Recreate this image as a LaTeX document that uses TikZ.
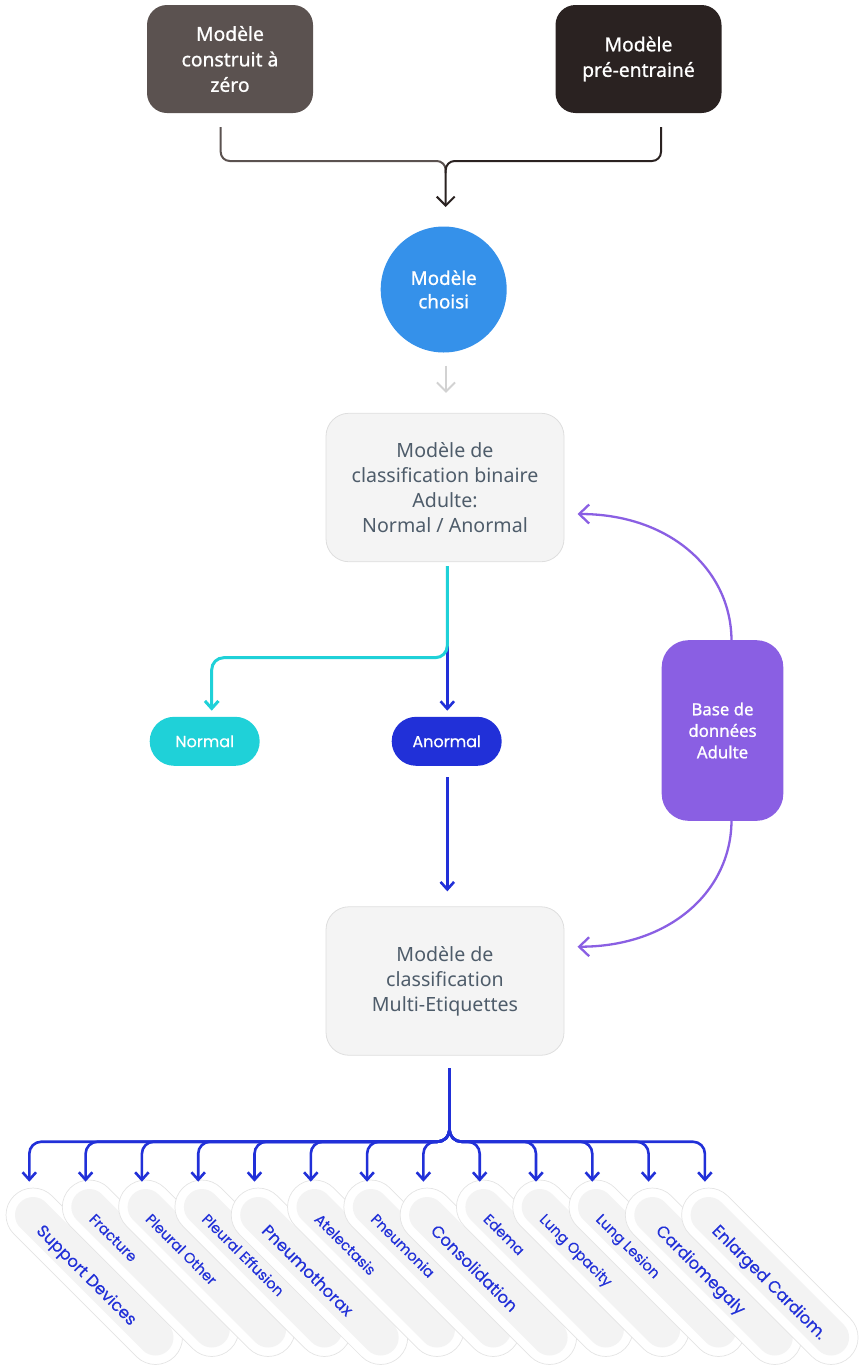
\documentclass[tikz,border=0pt]{standalone}
\usepackage{fontspec}
\setmainfont{Noto Sans}
\newfontfamily\medfont[FakeBold=0.9]{Noto Sans}
\newfontfamily\popfont[FakeBold=0.35]{Poppins}
\usetikzlibrary{arrows.meta,calc}
\definecolor{topA}{HTML}{5B5250}
\definecolor{topB}{HTML}{2A2221}
\definecolor{circ}{HTML}{3591EA}
\definecolor{lgray}{HTML}{D2D2D2}
\definecolor{boxfill}{HTML}{F4F4F4}
\definecolor{boxedge}{HTML}{DEDEDE}
\definecolor{slate}{HTML}{4E5C6A}
\definecolor{cyanc}{HTML}{1FD1D8}
\definecolor{bluec}{HTML}{2130D8}
\definecolor{purp}{HTML}{8A5FE3}
\definecolor{pillgray}{HTML}{F3F3F3}
\definecolor{haloedge}{HTML}{E4E4E4}
\begin{document}
\begin{tikzpicture}[x=1pt,y=-1pt,
  tbox/.style={rectangle, rounded corners=20pt, minimum width=166pt, minimum height=108pt, inner sep=0pt, text=white, align=center, font=\medfont\fontsize{19.3}{25.5}\selectfont},
  gbox/.style={rectangle, rounded corners=23pt, minimum width=238pt, minimum height=148.5pt, fill=boxfill, draw=boxedge, line width=0.8pt, text=slate, align=center, font=\fontsize{19.6}{25}\selectfont},
  opill/.style={rectangle, rounded corners=24.5pt, minimum width=110pt, minimum height=49pt, inner sep=0pt, text=white, font=\popfont\fontsize{16}{20}\selectfont},
  halo/.style={rectangle, rounded corners=27pt, minimum width=227.2pt, minimum height=54pt, inner sep=0pt, fill=white, draw=haloedge, line width=0.7pt, rotate=-45},
  core/.style={rectangle, rounded corners=18pt, minimum width=209.2pt, minimum height=36pt, inner sep=0pt, fill=pillgray, rotate=-45},
  lblS/.style={text=bluec, font=\popfont\fontsize{14.5}{16}\selectfont, rotate=-45, anchor=base west, inner sep=0pt},
  lblL/.style={text=bluec, font=\popfont\fontsize{16.5}{18}\selectfont, rotate=-45, anchor=base west, inner sep=0pt},
  bigtip/.style={-{Straight Barb[length=9pt,width=18pt]}},
  smalltip/.style={-{Straight Barb[length=7.5pt,width=13.5pt]}},
  purptip/.style={-{Straight Barb[length=10pt,width=19pt]}}
]
\useasboundingbox (0,0) rectangle (859,1368);

% ---- nodes ----
\node[tbox, fill=topA] (m1) at (230,59) {Modèle\\construit à\\zéro};
\node[tbox, fill=topB] (m2) at (638.5,59) {Modèle\\pré-entrainé};
\node[circle, fill=circ, minimum size=126pt, inner sep=0pt, text=white, align=center,
      font=\medfont\fontsize{18.8}{23.5}\selectfont] (ch) at (443.7,289.5) {Modèle\\choisi};
\node[gbox] (bin) at (445,487.5) {Modèle de\\classification binaire\\Adulte:\\Normal / Anormal};
\node[opill, fill=cyanc] (nor) at (204.7,741.3) {Normal};
\node[opill, fill=bluec] (ano) at (446.7,741.3) {Anormal};
\node[rectangle, rounded corners=27pt, fill=purp, minimum width=121.6pt, minimum height=180.7pt,
      inner sep=0pt, text=white, align=center, font=\medfont\fontsize{16.8}{21.5}\selectfont] (db) at (722.5,730.5) {Base de\\données\\Adulte};
\node[gbox] (mul) at (445,981) {Modèle de\\classification\\Multi-Etiquettes};

% ---- top merge ----
\coordinate (la) at (220.7,127);
\coordinate (ra) at (661,127);
\coordinate (mj) at (445.7,161);
\coordinate (mt) at (445.7,207);
\draw[topA, line width=2pt, rounded corners=9pt] (la) |- (mj) -- ++(0,12);
\draw[topB, line width=2pt, rounded corners=9pt, bigtip] (ra) |- (mj) -- (mt);

% ---- circle to binary ----
\draw[lgray, line width=2pt, bigtip] ($(ch.south)+(2.3,13)$) -- ($(bin.north)+(1,-20)$);

% ---- binary split ----
\coordinate (c0) at (447.3,566);
\coordinate (cj) at (0,657.7);
\coordinate (ntip) at (211.7,710.7);
\coordinate (a0) at (447.3,646);
\coordinate (atip) at (447.3,710.7);
\draw[bluec, line width=2.6pt, smalltip] (a0) -- (atip);
\draw[cyanc, line width=3pt, rounded corners=12pt, smalltip] (c0) -- (c0 |- cj) -| (ntip);

% ---- anormal to multi ----
\draw[bluec, line width=2.6pt, smalltip] ($(ano.south)+(0.6,11)$) -- ($(mul.north)+(2.3,-15)$);

% ---- database curves ----
\coordinate (dbt) at (731.5,641);
\coordinate (dbb) at (731.5,820);
\coordinate (bt) at (577.5,514);
\coordinate (mt2) at (577.5,946.7);
\draw[purp, line width=2.3pt, purptip] (dbt) .. controls (731.5,570) and (670,514) .. (bt);
\draw[purp, line width=2.3pt, purptip] (dbb) .. controls (731.5,891) and (670,946.7) .. (mt2);

% ---- label pills ----
\foreach \i/\t/\L in {0/Support Devices/1, 1/Fracture/0, 2/Pleural Other/0, 3/Pleural Effusion/0,
  4/Pneumothorax/1, 5/Atelectasis/0, 6/Pneumonia/0, 7/Consolidation/1, 8/Edema/0,
  9/Lung Opacity/0, 10/Lung Lesion/0, 11/Cardiomegaly/1, 12/Enlarged Cardiom./1}{
  \pgfmathsetmacro{\cx}{33+56.3*\i}
  \pgfmathsetmacro{\cy}{\L==1 ? 1215 : 1207}
  \node[halo] (h\i) at (\cx+61.25,\cy+61.25) {};
  \node[core] (k\i) at (h\i) {};
  \ifnum\L=1
    \node[lblL] (l\i) at (\cx+2.5,\cy+16.6) {\t};
  \else
    \node[lblS] (l\i) at (\cx-1,\cy+13) {\t};
  \fi
}

% ---- fan ----
\coordinate (ft) at (449.5,1068);
\coordinate (fh) at (0,1141.7);
\foreach \i in {0,...,12}{
  \coordinate (t\i) at ({29.3+56.3*\i},1181.7);
  \draw[bluec, line width=2.6pt, rounded corners=12pt, smalltip] (ft) -- (ft |- fh) -| (t\i);
}
\end{tikzpicture}
\end{document}
